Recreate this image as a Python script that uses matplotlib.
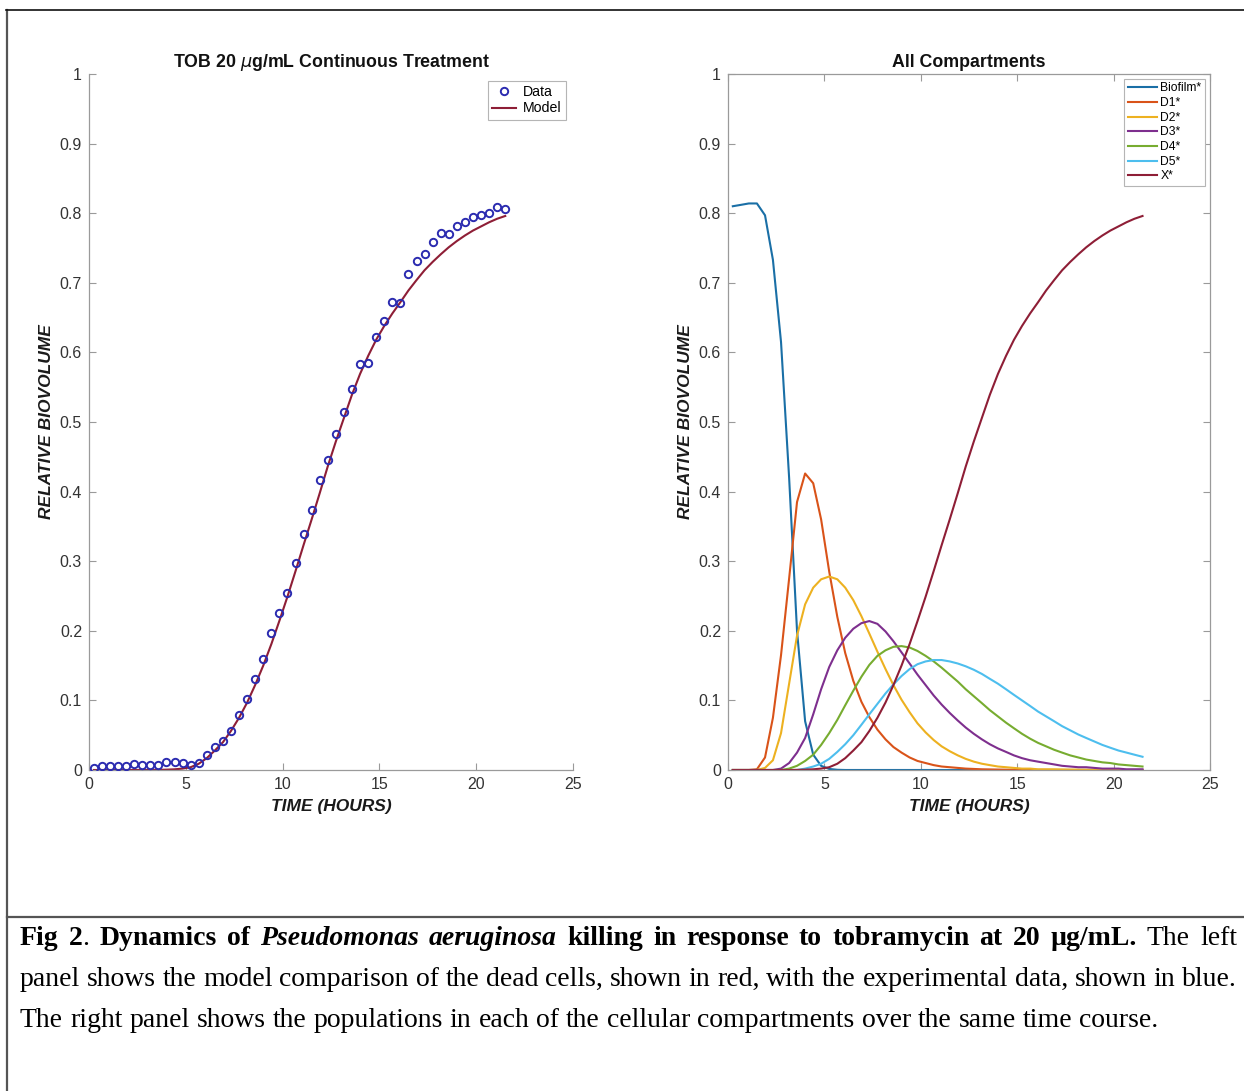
import numpy as np
import matplotlib
matplotlib.use('Agg')
import matplotlib.pyplot as plt
from matplotlib.lines import Line2D

# ---- sampling grid (h), one frame every 25 min ----
t_hours = [0.25, 0.67, 1.08, 1.50, 1.92, 2.33, 2.75, 3.17, 3.58, 4.00,
           4.42, 4.83, 5.25, 5.67, 6.08, 6.50, 6.92, 7.33, 7.75, 8.17,
           8.58, 9.00, 9.42, 9.83, 10.25, 10.67, 11.08, 11.50, 11.92, 12.33,
           12.75, 13.17, 13.58, 14.00, 14.42, 14.83, 15.25, 15.67, 16.08, 16.50,
           16.92, 17.33, 17.75, 18.17, 18.58, 19.00, 19.42, 19.83, 20.25, 20.67,
           21.08, 21.50]

# measured dead-cell biovolume, TOB 20 ug/mL
tob_data = [0.003, 0.006, 0.006, 0.006, 0.006, 0.008, 0.007, 0.007, 0.007, 0.012,
            0.011, 0.010, 0.007, 0.010, 0.022, 0.033, 0.041, 0.056, 0.079, 0.102,
            0.131, 0.159, 0.197, 0.226, 0.254, 0.298, 0.339, 0.374, 0.416, 0.446,
            0.483, 0.514, 0.547, 0.583, 0.585, 0.622, 0.645, 0.672, 0.671, 0.712,
            0.732, 0.742, 0.758, 0.771, 0.770, 0.781, 0.788, 0.794, 0.797, 0.801,
            0.809, 0.806]

# model compartments
biofilm = [0.810, 0.812, 0.814, 0.814, 0.797, 0.733, 0.615, 0.420, 0.200, 0.070,
           0.022, 0.006, 0.0015, 0.0003, 0, 0, 0, 0, 0, 0,
           0, 0, 0, 0, 0, 0, 0, 0, 0, 0,
           0, 0, 0, 0, 0, 0, 0, 0, 0, 0,
           0, 0, 0, 0, 0, 0, 0, 0, 0, 0,
           0, 0]
d1 = [0, 0, 0, 0.001, 0.018, 0.075, 0.165, 0.275, 0.385, 0.426,
      0.412, 0.360, 0.285, 0.220, 0.168, 0.128, 0.098, 0.076, 0.058, 0.044,
      0.033, 0.025, 0.018, 0.013, 0.010, 0.007, 0.005, 0.004, 0.003, 0.002,
      0.0015, 0.001, 0.0008, 0.0006, 0.0004, 0.0003, 0.0002, 0.0001, 0.0001, 0.0001,
      0, 0, 0, 0, 0, 0, 0, 0, 0, 0,
      0, 0]
d2 = [0, 0, 0, 0, 0.003, 0.014, 0.053, 0.124, 0.193, 0.238,
      0.262, 0.274, 0.278, 0.274, 0.262, 0.244, 0.221, 0.196, 0.170, 0.145,
      0.122, 0.101, 0.083, 0.067, 0.054, 0.043, 0.034, 0.027, 0.021, 0.016,
      0.012, 0.009, 0.007, 0.005, 0.004, 0.003, 0.002, 0.002, 0.001, 0.001,
      0.001, 0.0008, 0.0006, 0.0005, 0.0004, 0.0003, 0.0002, 0.0002, 0.0001, 0.0001,
      0.0001, 0.0001]
d3 = [0, 0, 0, 0, 0, 0, 0.002, 0.010, 0.025, 0.046,
      0.080, 0.116, 0.148, 0.172, 0.190, 0.203, 0.211, 0.214, 0.210, 0.199,
      0.185, 0.169, 0.153, 0.137, 0.122, 0.107, 0.094, 0.082, 0.071, 0.061,
      0.052, 0.044, 0.037, 0.031, 0.026, 0.021, 0.017, 0.014, 0.012, 0.010,
      0.008, 0.006, 0.005, 0.004, 0.004, 0.003, 0.002, 0.002, 0.002, 0.001,
      0.001, 0.001]
d4 = [0, 0, 0, 0, 0, 0, 0, 0.002, 0.006, 0.013,
      0.022, 0.036, 0.053, 0.072, 0.093, 0.114, 0.134, 0.151, 0.164, 0.172,
      0.177, 0.178, 0.176, 0.171, 0.164, 0.156, 0.147, 0.137, 0.127, 0.116,
      0.106, 0.096, 0.086, 0.077, 0.068, 0.060, 0.052, 0.045, 0.039, 0.034,
      0.029, 0.025, 0.021, 0.018, 0.015, 0.013, 0.011, 0.010, 0.008, 0.007,
      0.006, 0.005]
d5 = [0, 0, 0, 0, 0, 0, 0, 0, 0, 0.002,
      0.005, 0.009, 0.016, 0.026, 0.037, 0.050, 0.065, 0.080, 0.095, 0.110,
      0.123, 0.135, 0.145, 0.152, 0.156, 0.158, 0.158, 0.156, 0.153, 0.149,
      0.144, 0.138, 0.131, 0.124, 0.116, 0.108, 0.100, 0.092, 0.084, 0.077,
      0.070, 0.063, 0.057, 0.051, 0.046, 0.041, 0.036, 0.032, 0.028, 0.025,
      0.022, 0.019]
# dead cells X* (also the fitted model in the left panel)
dead_model = [0, 0, 0, 0, 0, 0, 0, 0, 0.0002, 0.0005,
              0.001, 0.002, 0.004, 0.009, 0.017, 0.028, 0.040, 0.056, 0.075, 0.097,
              0.122, 0.150, 0.181, 0.214, 0.249, 0.286, 0.323, 0.360, 0.398, 0.436,
              0.472, 0.506, 0.539, 0.569, 0.595, 0.618, 0.638, 0.656, 0.672, 0.689,
              0.704, 0.718, 0.730, 0.741, 0.751, 0.760, 0.768, 0.775, 0.781, 0.787,
              0.792, 0.796]

comp_labels = ['Biofilm*', 'D1*', 'D2*', 'D3*', 'D4*', 'D5*', 'X*']
comp_colors = ['#1a6fa6', '#D95319', '#EDB120', '#7E2F8E', '#77AC30', '#4DBEEE', '#8e1e36']

x_ticks = [0, 5, 10, 15, 20, 25]
y_ticks = [0, 0.1, 0.2, 0.3, 0.4, 0.5, 0.6, 0.7, 0.8, 0.9, 1]
y_tick_labels = ['0', '0.1', '0.2', '0.3', '0.4', '0.5', '0.6', '0.7', '0.8', '0.9', '1']

W, H = 1244, 1091
AX_COL = '#9a9a9a'
plt.rcParams['font.family'] = ['Liberation Sans', 'DejaVu Sans']


def style_axes(ax, boxed):
    ax.set_xlim(0, 25)
    ax.set_ylim(0, 1)
    ax.set_xticks(x_ticks)
    ax.set_yticks(y_ticks)
    ax.set_yticklabels(y_tick_labels)
    ax.tick_params(direction='in', length=5, width=0.8, color=AX_COL,
                   labelcolor='#333333', labelsize=11.5, pad=5,
                   top=boxed, right=boxed)
    ax.spines['top'].set_visible(boxed)
    ax.spines['right'].set_visible(boxed)
    for s in ax.spines.values():
        s.set_color(AX_COL)
        s.set_linewidth(0.9)
    ax.set_xlabel('TIME (HOURS)', fontweight='bold', fontstyle='italic',
                  fontsize=12.5, color='#1a1a1a', labelpad=5)
    ax.set_ylabel('RELATIVE BIOVOLUME', fontweight='bold', fontstyle='italic',
                  fontsize=12.5, color='#1a1a1a', labelpad=4)


def caption_line(fig, runs, y_px, justify, x0=20, x1=1237, size=20):
    # lay out mixed-style runs word by word, optionally stretched to x1
    r = fig.canvas.get_renderer()
    words = []
    for text, weight, style in runs:
        for k, p in enumerate(text.split(' ')):
            if p:
                words.append((p, weight, style, k > 0))
    kw = dict(family='Liberation Serif', fontsize=size, color='black', va='baseline')
    probe = fig.text(0, 0, 'x x', **kw)
    probe2 = fig.text(0, 0, 'xx', **kw)
    space = probe.get_window_extent(r).width - probe2.get_window_extent(r).width
    probe.remove(); probe2.remove()
    arts = []
    for w, weight, style, sp in words:
        t = fig.text(0, 1 - y_px / H, w, fontweight=weight, fontstyle=style, **kw)
        arts.append((t, t.get_window_extent(r).width, sp))
    n_sp = sum(1 for a in arts if a[2])
    natural = sum(a[1] for a in arts) + n_sp * space
    gap = space
    if justify and n_sp:
        gap = space + (x1 - x0 - natural) / n_sp
    x = x0
    for t, wd, sp in arts:
        if sp:
            x += gap
        t.set_x(x / W)
        x += wd


fig = plt.figure(figsize=(W / 100, H / 100), dpi=100)
fig.patch.set_facecolor('white')

ax1 = fig.add_axes([89 / W, 1 - 770 / H, 484 / W, 696 / H])
ax2 = fig.add_axes([728 / W, 1 - 770 / H, 482 / W, 696 / H])

# left: data vs model
ax1.plot(t_hours, dead_model, color='#8e1e36', lw=1.5, label='Model', zorder=2)
ax1.plot(t_hours, tob_data, 'o', ms=5.3, mfc='none', mec='#2b2bb0', mew=1.4,
         label='Data', zorder=3)
style_axes(ax1, boxed=False)
ax1.set_title(r'TOB 20 $\mu$g/mL Continuous Treatment', fontsize=12.8,
              fontweight='bold', color='#111111', pad=5)
h, l = ax1.get_legend_handles_labels()
ax1.legend(h[::-1], l[::-1], loc='upper right', fontsize=10.2, frameon=True,
           fancybox=False, edgecolor='#b5b5b5', framealpha=1, handlelength=1.7,
           labelspacing=0.15, borderpad=0.3, handletextpad=0.5,
           borderaxespad=0.5).get_frame().set_linewidth(0.8)

# right: all compartments
for series, lab, col in zip([biofilm, d1, d2, d3, d4, d5, dead_model],
                            comp_labels, comp_colors):
    ax2.plot(t_hours, series, color=col, lw=1.5, label=lab)
style_axes(ax2, boxed=True)
ax2.set_title('All Compartments', fontsize=12.8, fontweight='bold',
              color='#111111', pad=5)
ax2.legend(loc='upper right', fontsize=8.7, frameon=True, fancybox=False,
           edgecolor='#b5b5b5', framealpha=1, handlelength=2.4,
           labelspacing=0.22, borderpad=0.3, handletextpad=0.3,
           borderaxespad=0.4).get_frame().set_linewidth(0.8)

# page frame around the figure and caption
fig.add_artist(Line2D([7 / W, 7 / W], [0, 1 - 10 / H], transform=fig.transFigure,
                      color='#555555', lw=1.6))
fig.add_artist(Line2D([6 / W, 1], [1 - 9.5 / H, 1 - 9.5 / H], transform=fig.transFigure,
                      color='#111111', lw=1.2))
fig.add_artist(Line2D([7 / W, 1], [1 - 917 / H, 1 - 917 / H], transform=fig.transFigure,
                      color='#555555', lw=1.6))

caption_line(fig, [('Fig 2', 'bold', 'normal'), ('.', 'normal', 'normal'),
                   (' Dynamics of', 'bold', 'normal'),
                   (' Pseudomonas aeruginosa', 'bold', 'italic'),
                   (' killing in response to tobramycin at 20 µg/mL.', 'bold', 'normal'),
                   (' The left', 'normal', 'normal')], 945, True)
caption_line(fig, [('panel shows the model comparison of the dead cells, shown in red, '
                    'with the experimental data, shown in blue.', 'normal', 'normal')],
             986, True)
caption_line(fig, [('The right panel shows the populations in each of the cellular '
                    'compartments over the same time course.', 'normal', 'normal')],
             1027, False)

fig.savefig('out.png', dpi=100)
